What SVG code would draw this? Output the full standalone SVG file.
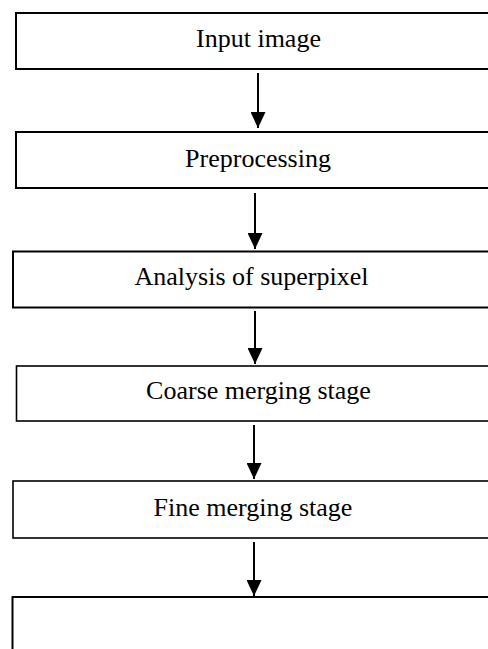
<svg xmlns="http://www.w3.org/2000/svg" width="488" height="649" viewBox="0 0 488 649">
<style>
.box{fill:#fff;stroke:#000;stroke-width:2}
.thin{stroke-width:1.6}
.lbl{font-family:"Liberation Serif","Times New Roman",serif;font-size:26px;fill:#000;text-anchor:middle}
.conn{stroke:#000;stroke-width:2;fill:none;marker-end:url(#ah)}
</style>
<defs>
<marker id="ah" markerUnits="userSpaceOnUse" viewBox="0 0 16 15" markerWidth="16" markerHeight="15" refX="16" refY="7.5" orient="auto">
<path d="M0,0 L16,7.5 L0,15 Z" fill="#000"/>
</marker>
</defs>
<rect width="488" height="649" fill="#fff"/>
<g id="connectors">
<line class="conn" x1="258" y1="73" x2="258" y2="128"/>
<line class="conn" x1="255" y1="193" x2="255" y2="249"/>
<line class="conn" x1="255" y1="311" x2="255" y2="364"/>
<line class="conn" x1="254" y1="425" x2="254" y2="479"/>
<line class="conn" x1="254" y1="542" x2="254" y2="596"/>
</g>
<g id="n1"><rect class="box" x="16" y="13" width="500" height="56"/><text class="lbl" x="258.5" y="47">Input image</text></g>
<g id="n2"><rect class="box" x="16" y="132" width="500" height="56"/><text class="lbl" x="258" y="166.5">Preprocessing</text></g>
<g id="n3"><rect class="box" x="13" y="251.5" width="500" height="56"/><text class="lbl" x="251.5" y="285">Analysis of superpixel</text></g>
<g id="n4"><rect class="box thin" x="16.5" y="366" width="500" height="55"/><text class="lbl" x="258.5" y="399">Coarse merging stage</text></g>
<g id="n5"><rect class="box thin" x="13" y="481" width="500" height="57"/><text class="lbl" x="253" y="516">Fine merging stage</text></g>
<g id="n6"><rect class="box" x="12.5" y="597" width="500" height="70"/></g>
</svg>
